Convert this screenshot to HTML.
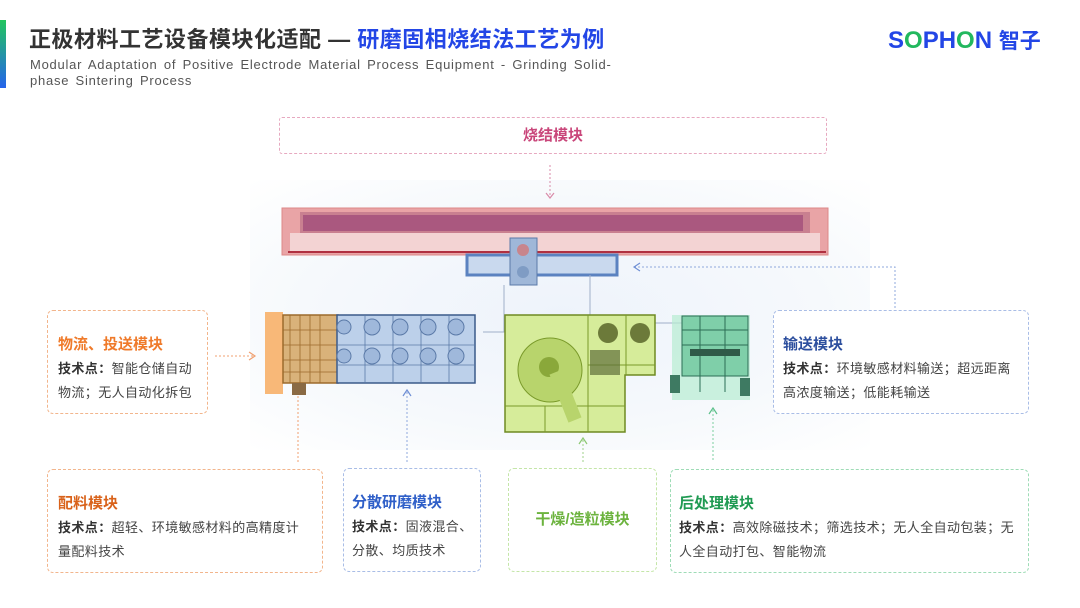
<!DOCTYPE html>
<html><head><meta charset="utf-8"><style>
*{margin:0;padding:0;box-sizing:border-box}
body{width:1080px;height:608px;background:#fff;position:relative;overflow:hidden;font-family:"Liberation Sans","Noto Sans CJK SC",sans-serif}
.a{position:absolute}
.box{position:absolute;border-radius:6px;background:#fff}
.t{font-weight:bold;font-size:15px;position:absolute;left:10px;top:22px}
.b{position:absolute;left:10px;top:46px;font-size:13px;letter-spacing:0.4px;color:#444;line-height:24px;right:6px}
.b b{color:#333}
</style></head><body>
<div class="a" style="left:0;top:20px;width:6px;height:68px;background:linear-gradient(#22c55e,#2563eb)"></div>
<div class="a" style="left:29px;top:22px;font-size:22px;letter-spacing:0.5px;font-weight:bold;color:#333;white-space:nowrap">正极材料工艺设备模块化适配 — <span style="color:#2346e6">研磨固相烧结法工艺为例</span></div>
<div class="a" style="left:30px;top:57px;width:585px;font-size:13px;color:#555;line-height:16px;letter-spacing:0.75px;word-spacing:2px">Modular Adaptation of Positive Electrode Material Process Equipment - Grinding Solid-phase Sintering Process</div>
<div class="a" style="left:888px;top:25px;font-size:24px;font-weight:bold;color:#2346e6;white-space:nowrap">S<span style="color:#22b85e">O</span>PH<span style="color:#22b85e">O</span>N <span style="font-size:21px">智子</span></div>

<div class="a" style="left:250px;top:180px;width:620px;height:270px;background:radial-gradient(ellipse at center,#eef3fb 0%,#f6f9fc 60%,#fff 100%)"></div>

<div class="box" style="left:279px;top:117px;width:548px;height:37px;border:1px dashed #e7a9c0;border-radius:3px;text-align:center;line-height:35px;color:#c9467a;font-weight:bold;font-size:15px">烧结模块</div>

<svg class="a" style="left:0;top:0" width="1080" height="608">
<g fill="none" stroke-dasharray="2 2" stroke-width="1">
<path d="M550 165V197" stroke="#d98aa8"/>
<path d="M215 356H255" stroke="#f0a070"/>
<path d="M298 380V462" stroke="#f0a070"/>
<path d="M407 392V462" stroke="#8fa8dd"/>
<path d="M583 440V462" stroke="#9fd08a"/>
<path d="M713 410V462" stroke="#7ccfa0"/>
<path d="M634 267H895V310" stroke="#8fa8dd"/>
</g>
<g fill="none" stroke-width="1.2">
<path d="M546 193l4 5 4-5" stroke="#d98aa8"/>
<path d="M249 352l6 4-6 4" stroke="#f0a070"/>
<path d="M294 384l4-6 4 6" stroke="#f0a070"/>
<path d="M403 396l4-6 4 6" stroke="#6f8fd5"/>
<path d="M579 444l4-6 4 6" stroke="#8cc872"/>
<path d="M709 414l4-6 4 6" stroke="#5cc08a"/>
<path d="M640 263l-6 4 6 4" stroke="#6f8fd5"/>
</g>
<rect x="282" y="208" width="546" height="47" fill="#e9a4a6" stroke="#d88"/>
<rect x="300" y="212" width="510" height="22" fill="#c98090"/>
<rect x="303" y="215" width="500" height="16" fill="#a24d7a" opacity="0.8"/>
<rect x="290" y="233" width="530" height="18" fill="#f3d3d3"/>
<line x1="288" y1="252" x2="826" y2="252" stroke="#b03040" stroke-width="2"/>
<rect x="467" y="255" width="150" height="20" fill="#c9d9ee" stroke="#5b82c0" stroke-width="3"/>
<rect x="510" y="238" width="27" height="47" fill="#9fb7d8" stroke="#5b7aa8"/>
<circle cx="523" cy="250" r="6" fill="#c8858c"/><circle cx="523" cy="272" r="6" fill="#7f9cc4"/>
<path d="M504 285V332H483M590 275V323H690" fill="none" stroke="#a0afc8"/>
<rect x="265" y="312" width="18" height="82" fill="#f8b878"/>
<rect x="283" y="315" width="55" height="68" fill="#d9b27a" stroke="#9c6a2c" stroke-width="1.5"/>
<rect x="292" y="383" width="14" height="12" fill="#8a6a44"/>
<g stroke="#9c6a2c" stroke-width="0.8"><path d="M290 315V383M300 315V383M310 315V383M320 315V383M283 330H338M283 345H338M283 360H338M283 372H338"/></g>
<rect x="337" y="315" width="138" height="68" fill="#bcd0ea" stroke="#3b5a8a" stroke-width="1.5"/>
<g stroke="#5b7aa8" stroke-width="0.8" fill="none"><path d="M337 345H475M337 365H475M365 315V383M393 315V383M421 315V383M449 315V383"/></g>
<g fill="#9fb8db" stroke="#5b7aa8"><circle cx="372" cy="327" r="8"/><circle cx="400" cy="327" r="8"/><circle cx="428" cy="327" r="8"/><circle cx="456" cy="327" r="8"/><circle cx="372" cy="356" r="8"/><circle cx="400" cy="356" r="8"/><circle cx="428" cy="356" r="8"/><circle cx="456" cy="356" r="8"/><circle cx="344" cy="356" r="7"/><circle cx="344" cy="327" r="7"/></g>
<path d="M505 315H655V375H625V432H505Z" fill="#d6ec9a" stroke="#6f8a22" stroke-width="1.5"/>
<g stroke="#7a9a2a" stroke-width="1" fill="none"><path d="M505 406H625M545 406V432M588 315V432M626 315V375M588 365H655"/></g>
<circle cx="550" cy="370" r="32" fill="#b8d46c" stroke="#7a9a2a"/>
<circle cx="549" cy="367" r="10" fill="#8aa83a"/>
<path d="M556 372L575 420" stroke="#b8d46c" stroke-width="14"/>
<circle cx="608" cy="333" r="10" fill="#6c7a3a"/><circle cx="640" cy="333" r="10" fill="#6c7a3a"/>
<rect x="590" y="350" width="30" height="25" fill="#5f6f3a" opacity="0.7"/>
<rect x="672" y="315" width="78" height="85" fill="#b7ecd2" opacity="0.7"/>
<rect x="682" y="316" width="66" height="60" fill="#7fcfa9" stroke="#2c6e55"/>
<g stroke="#2c6e55" fill="none"><path d="M682 330H748M682 345H748M700 316V392M725 316V392"/></g>
<rect x="690" y="349" width="50" height="7" fill="#2f5a48"/>
<rect x="670" y="375" width="10" height="18" fill="#3e7a62"/><rect x="740" y="378" width="10" height="18" fill="#3e7a62"/>
</svg>

<div class="box" style="left:47px;top:310px;width:161px;height:104px;border:1px dashed #f2b58c"><div class="t" style="color:#ef7a2a">物流、投送模块</div><div class="b"><b>技术点：</b>智能仓储自动物流；无人自动化拆包</div></div>
<div class="box" style="left:773px;top:310px;width:256px;height:104px;border:1px dashed #a9bde6"><div class="t" style="left:9px;color:#2d4f9e">输送模块</div><div class="b" style="left:9px"><b>技术点：</b>环境敏感材料输送；超远距离高浓度输送；低能耗输送</div></div>
<div class="box" style="left:47px;top:469px;width:276px;height:104px;border:1px dashed #f2b58c"><div class="t" style="color:#d9621a">配料模块</div><div class="b" style="right:14px"><b>技术点：</b>超轻、环境敏感材料的高精度计量配料技术</div></div>
<div class="box" style="left:343px;top:468px;width:138px;height:104px;border:1px dashed #a9bde6"><div class="t" style="left:8px;color:#2f5fc8">分散研磨模块</div><div class="b" style="left:8px;right:2px"><b>技术点：</b>固液混合、分散、均质技术</div></div>
<div class="box" style="left:508px;top:468px;width:149px;height:104px;border:1px dashed #c4e6a8;text-align:center;line-height:102px;color:#6cb33e;font-weight:bold;font-size:15px">干燥/造粒模块</div>
<div class="box" style="left:670px;top:469px;width:359px;height:104px;border:1px dashed #9edcb6"><div class="t" style="left:8px;color:#1f9a52">后处理模块</div><div class="b" style="left:8px;right:4px"><b>技术点：</b>高效除磁技术；筛选技术；无人全自动包装；无人全自动打包、智能物流</div></div>
</body></html>
